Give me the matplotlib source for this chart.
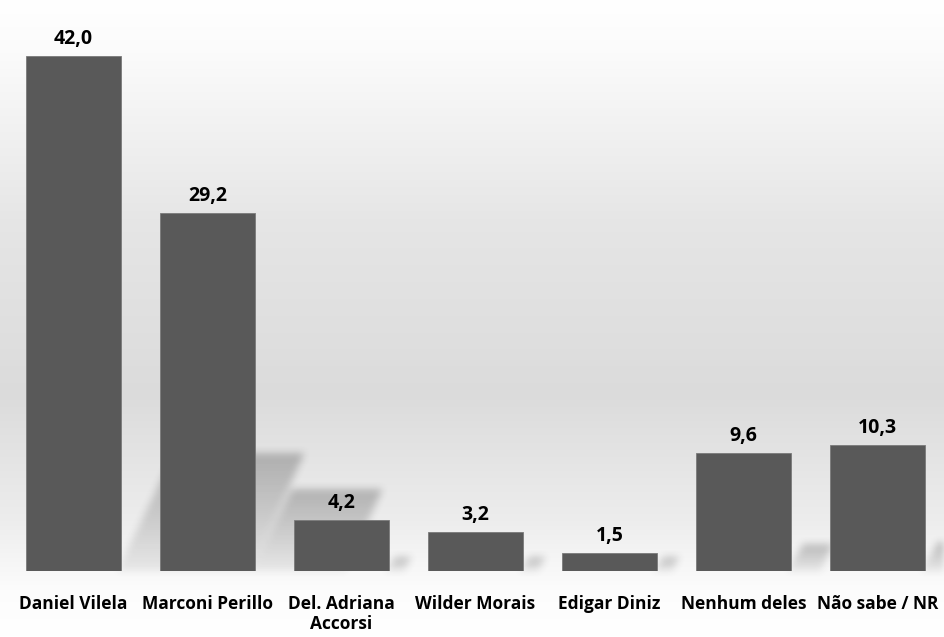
import matplotlib
matplotlib.use("Agg")
import matplotlib.pyplot as plt
import numpy as np
from matplotlib.path import Path

categories = ["Daniel Vilela", "Marconi Perillo", "Del. Adriana\nAccorsi", "Wilder Morais",
              "Edigar Diniz", "Nenhum deles", "Não sabe / NR"]
values = [42.0, 29.2, 4.2, 3.2, 1.5, 9.6, 10.3]
value_labels = ["42,0", "29,2", "4,2", "3,2", "1,5", "9,6", "10,3"]

W, H = 945, 637
fig = plt.figure(figsize=(W / 100, H / 100), dpi=100)

# background gradient (pixel-space axes)
bg = fig.add_axes([0, 0, 1, 1], zorder=0)
yy = np.linspace(0, 1, H)  # 0 = top
prof = np.interp(yy, [0, 0.08, 0.35, 0.62, 0.82, 0.93, 1.0],
                 [1.0, 0.985, 0.9, 0.86, 0.93, 0.99, 1.0])
img = np.repeat(prof[:, None], 4, axis=1)
bg.imshow(np.dstack([img, img, img]), aspect="auto", extent=[0, W, 0, H], origin="upper",
          interpolation="bilinear")
bg.set_xlim(0, W)
bg.set_ylim(0, H)
bg.set_axis_off()

ax = fig.add_axes([0, (H - 571) / H, 1, 571 / H], zorder=1)
ax.patch.set_alpha(0)
x = np.arange(len(values))
ppu = 12.26  # pixels per unit
ax.set_ylim(0, 571 / ppu)
xmin = -73.5 / 134
ax.set_xlim(xmin, xmin + W / 134)
bw = 0.71

# soft perspective shadows, built in display space from the bars' data positions
gx, gy = np.meshgrid(np.arange(W) + 0.5, np.arange(H) + 0.5)
pts = np.column_stack([gx.ravel(), gy.ravel()])
shadow = np.zeros((H, W))
for xi, v in zip(x, values):
    (xr, y0), = ax.transData.transform([(xi + bw / 2, 0)])
    (_, yt), = ax.transData.transform([(xi, v)])
    hs = max(0.23 * (yt - y0), 14)
    w = 1.1 * hs
    s = 0.45 * hs
    poly = Path([(xr - 4, y0), (xr + w, y0), (xr + w + s, y0 + hs), (xr + s, y0 + hs), (xr - 4, y0)])
    inside = poly.contains_points(pts).reshape(H, W)
    frac = np.clip((gy - y0) / max(hs, 1), 0, 1)
    wgt = 0.08 + 0.22 * frac
    shadow = np.maximum(shadow, inside * wgt)


def box_blur(a, r):
    k = np.ones(2 * r + 1) / (2 * r + 1)
    a = np.apply_along_axis(lambda m: np.convolve(m, k, mode="same"), 0, a)
    a = np.apply_along_axis(lambda m: np.convolve(m, k, mode="same"), 1, a)
    return a


shadow = box_blur(box_blur(shadow, 4), 4)
rgba = np.zeros((H, W, 4))
rgba[..., :3] = 0.2
rgba[..., 3] = shadow
bg.imshow(rgba, extent=[0, W, 0, H], origin="lower", aspect="auto", interpolation="bilinear")
bg.set_xlim(0, W)
bg.set_ylim(0, H)

bars = ax.bar(x, values, width=bw, color="#595959", edgecolor="#7a7a7a", linewidth=0.6, zorder=3)

font = ["Open Sans", "DejaVu Sans"]
for xi, v, lab in zip(x, values, value_labels):
    ax.annotate(lab, (xi, v), xytext=(0, 5), textcoords="offset points", ha="center", va="bottom",
                fontsize=14, fontweight="bold", family=font, color="black", zorder=4)

ax.set_xticks(x)
ax.set_xticklabels(categories, fontsize=12.5, fontweight="bold", family=font, linespacing=1.15)
ax.tick_params(axis="x", length=0, pad=17)
ax.set_yticks([])
for s_ in ax.spines.values():
    s_.set_visible(False)

fig.savefig("out.png", dpi=100)
